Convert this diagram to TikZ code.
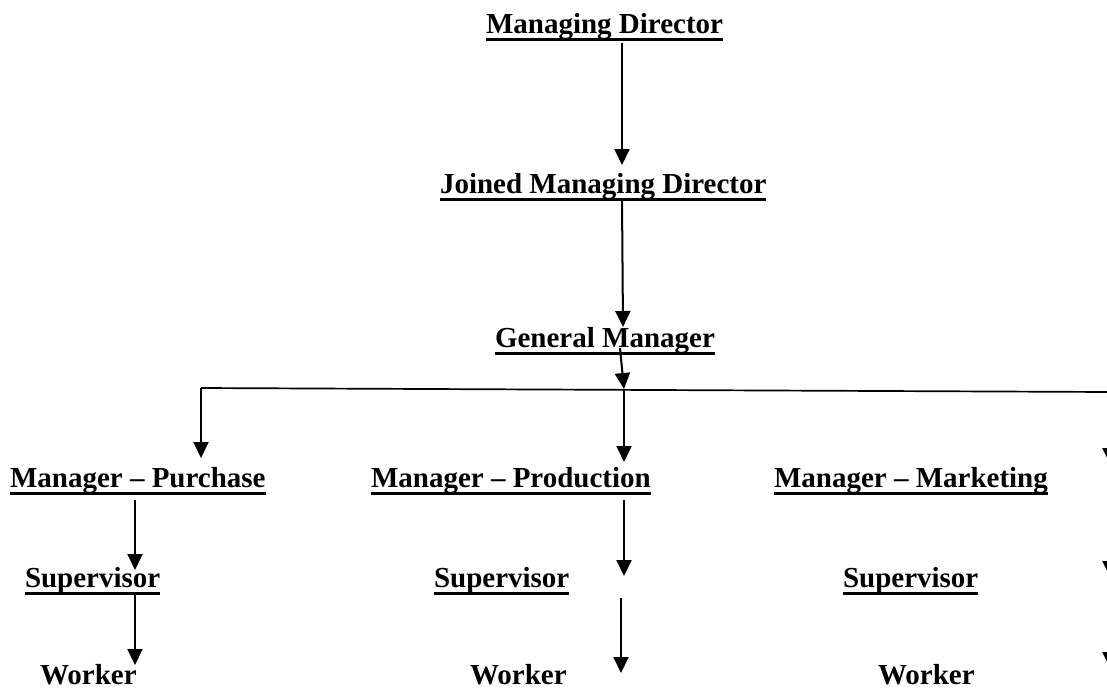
\documentclass[tikz,border=0pt]{standalone}
\usepackage{fontspec}
\setmainfont{Liberation Serif}
\usetikzlibrary{arrows.meta}
\newcommand\ulbox[1]{\setbox0\hbox{#1}\rlap{\rule[-7.5pt]{\wd0}{2.6pt}}\box0}
\tikzset{
  lbl/.style={anchor=base west, inner sep=0pt, outer sep=0pt, font=\fontsize{29}{34}\selectfont\bfseries},
  arr/.style={line width=2pt, -{Triangle[length=16pt,width=15pt]}},
  bar/.style={line width=1.7pt}
}
\begin{document}
\begin{tikzpicture}[x=1pt,y=-1pt]
\useasboundingbox (0,0) rectangle (1107,691);
\clip (0,0) rectangle (1107,691);
% labels
\node[lbl] (md)  at (486,33)  {\ulbox{Managing Director}};
\node[lbl] (jmd) at (440,193) {\ulbox{Joined Managing Director}};
\node[lbl] (gm)  at (495,347) {\ulbox{General Manager}};
\node[lbl] (mpu) at (10,487)  {\ulbox{Manager – Purchase}};
\node[lbl] (mpr) at (371,487) {\ulbox{Manager – Production}};
\node[lbl] (mma) at (774,487) {\ulbox{Manager – Marketing}};
\node[lbl] (s1)  at (25,587)  {\ulbox{Supervisor}};
\node[lbl] (s2)  at (434,587) {\ulbox{Supervisor}};
\node[lbl] (s3)  at (843,587) {\ulbox{Supervisor}};
\node[lbl] (w1)  at (40,684)  {Worker};
\node[lbl] (w2)  at (470,684) {Worker};
\node[lbl] (w3)  at (878,684) {Worker};
% coordinates
\coordinate (a1s) at (622,43);   \coordinate (a1e) at (622,165);
\coordinate (a2s) at (622,200);  \coordinate (a2e) at (623,327);
\coordinate (a3s) at (620,348);  \coordinate (a3e) at (624,389);
\coordinate (hl)  at (201,388);  \coordinate (hr)  at (1110,392);
\coordinate (pu)  at (201,458);
\coordinate (prs) at (624,390);  \coordinate (pre) at (624,462);
\coordinate (rte) at (1110,464);
\coordinate (b1s) at (135,500);  \coordinate (b1e) at (135,570);
\coordinate (b2s) at (135,594);  \coordinate (b2e) at (135,665);
\coordinate (c1s) at (624,500);  \coordinate (c1e) at (624,576);
\coordinate (c2s) at (621,598);  \coordinate (c2e) at (621,673);
\coordinate (d1s) at (1110,505); \coordinate (d1e) at (1110,577);
\coordinate (d2s) at (1110,598); \coordinate (d2e) at (1110,668);
% connectors
\draw[arr] (a1s) -- (a1e);
\draw[arr] (a2s) -- (a2e);
\draw[arr] (a3s) -- (a3e);
\draw[bar] (hl) -- (hr);
\draw[arr] (hl) -- (pu);
\draw[arr] (prs) -- (pre);
\draw[arr] (hr) -- (rte);
\draw[arr] (b1s) -- (b1e);
\draw[arr] (b2s) -- (b2e);
\draw[arr] (c1s) -- (c1e);
\draw[arr] (c2s) -- (c2e);
\draw[arr] (d1s) -- (d1e);
\draw[arr] (d2s) -- (d2e);
\end{tikzpicture}
\end{document}
